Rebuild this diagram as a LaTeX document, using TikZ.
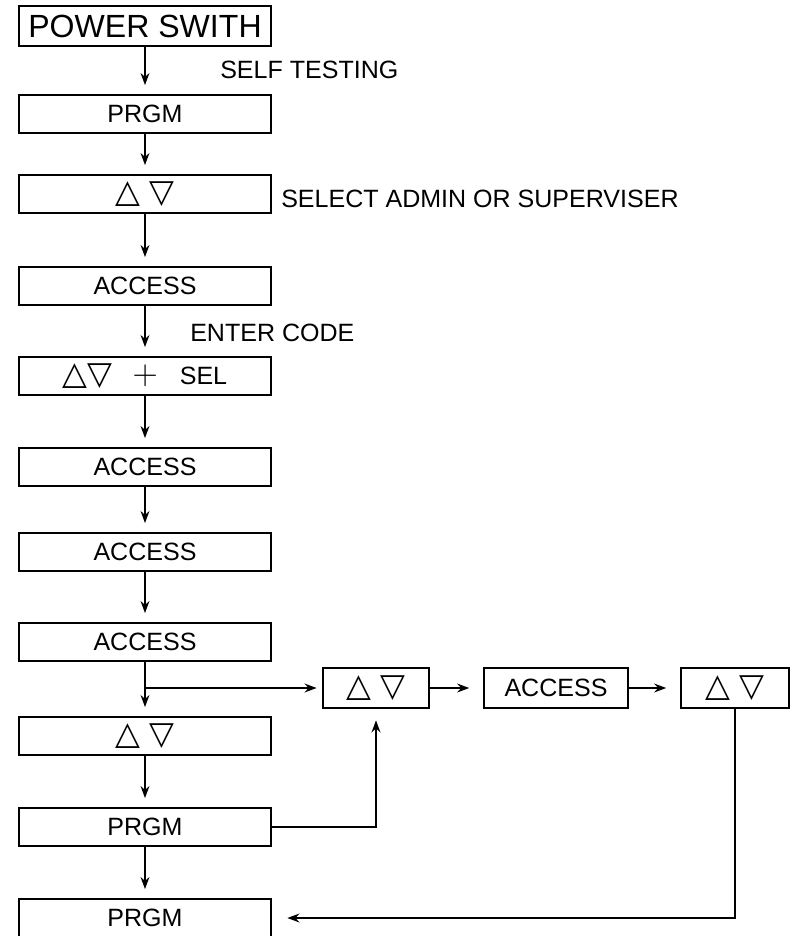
\documentclass[tikz,border=0pt]{standalone}
\usepackage[no-math]{fontspec}
\setmainfont{Liberation Sans}
\newfontfamily\symfont{DejaVu Sans}
\usetikzlibrary{arrows.meta}

\newcommand{\updown}{{\symfont\fontsize{23}{23}\selectfont △\hspace{0.22cm}▽}}
\newcommand{\bigplus}{{\fontsize{28}{28}\selectfont$+$}}

\begin{document}
\begin{tikzpicture}[x=0.025cm, y=-0.025cm,
    box/.style={draw, line width=1.6pt, minimum width=6.3cm, minimum height=0.95cm, inner sep=0pt, font=\fontsize{17.8}{20}\selectfont},
    smallbox/.style={box, minimum width=#1, minimum height=1cm},
    link/.style={line width=1.4pt, -{Stealth[length=3mm, width=2.2mm]}, shorten >=2.2mm},
    note/.style={anchor=west, inner sep=0pt, font=\fontsize{17.8}{20}\selectfont}]
  \useasboundingbox (0,0) rectangle (791,936);

  \node[box, minimum height=1cm, font=\fontsize{22.8}{24}\selectfont] (power) at (145,26) {POWER SWITH};
  \node[box] (prgmA) at (145,114) {PRGM};
  \node[box] (keysA) at (145,194) {\updown};
  \node[box] (accA) at (145,286) {ACCESS};
  \node[box] (codeA) at (145,376) {{\symfont\fontsize{23}{23}\selectfont △▽}\hspace{0.5cm}\bigplus\hspace{0.55cm}SEL};
  \node[box] (accB) at (145,467) {ACCESS};
  \node[box] (accC) at (145,552) {ACCESS};
  \node[box] (accD) at (145,642) {ACCESS};
  \node[box] (keysB) at (145,736) {\updown};
  \node[box] (prgmB) at (145,827) {PRGM};
  \node[box] (prgmC) at (145,918) {PRGM};

  \node[smallbox=2.65cm] (keysC) at (376,688) {\updown};
  \node[smallbox=3.6cm] (accE) at (556,688) {ACCESS};
  \node[smallbox=2.7cm] (keysD) at (735,688) {\updown};

  \node[note] (selftest) at (220,70) {SELF TESTING};
  \node[note] (select) at (281,199) {SELECT ADMIN OR SUPERVISER};
  \node[note] (entercode) at (190,333) {ENTER CODE};

  \draw[link] (power) -- (prgmA);
  \draw[link] (prgmA) -- (keysA);
  \draw[link] (keysA) -- (accA);
  \draw[link] (accA) -- (codeA);
  \draw[link] (codeA) -- (accB);
  \draw[link] (accB) -- (accC);
  \draw[link] (accC) -- (accD);
  \draw[link] (accD) -- (keysB);
  \draw[link] (keysB) -- (prgmB);
  \draw[link] (prgmB) -- (prgmC);

  \draw[link, shorten >=1.3mm] (accD.south |- keysC.west) -- (keysC.west);
  \draw[link, shorten >=3.4mm] (keysC) -- (accE);
  \draw[link, shorten >=3.4mm] (accE) -- (keysD);
  \draw[link, shorten >=2.8mm] (prgmB.east) -| (keysC.south);
  \draw[link, shorten >=3.8mm] (keysD.south) |- (prgmC.east);
\end{tikzpicture}
\end{document}
